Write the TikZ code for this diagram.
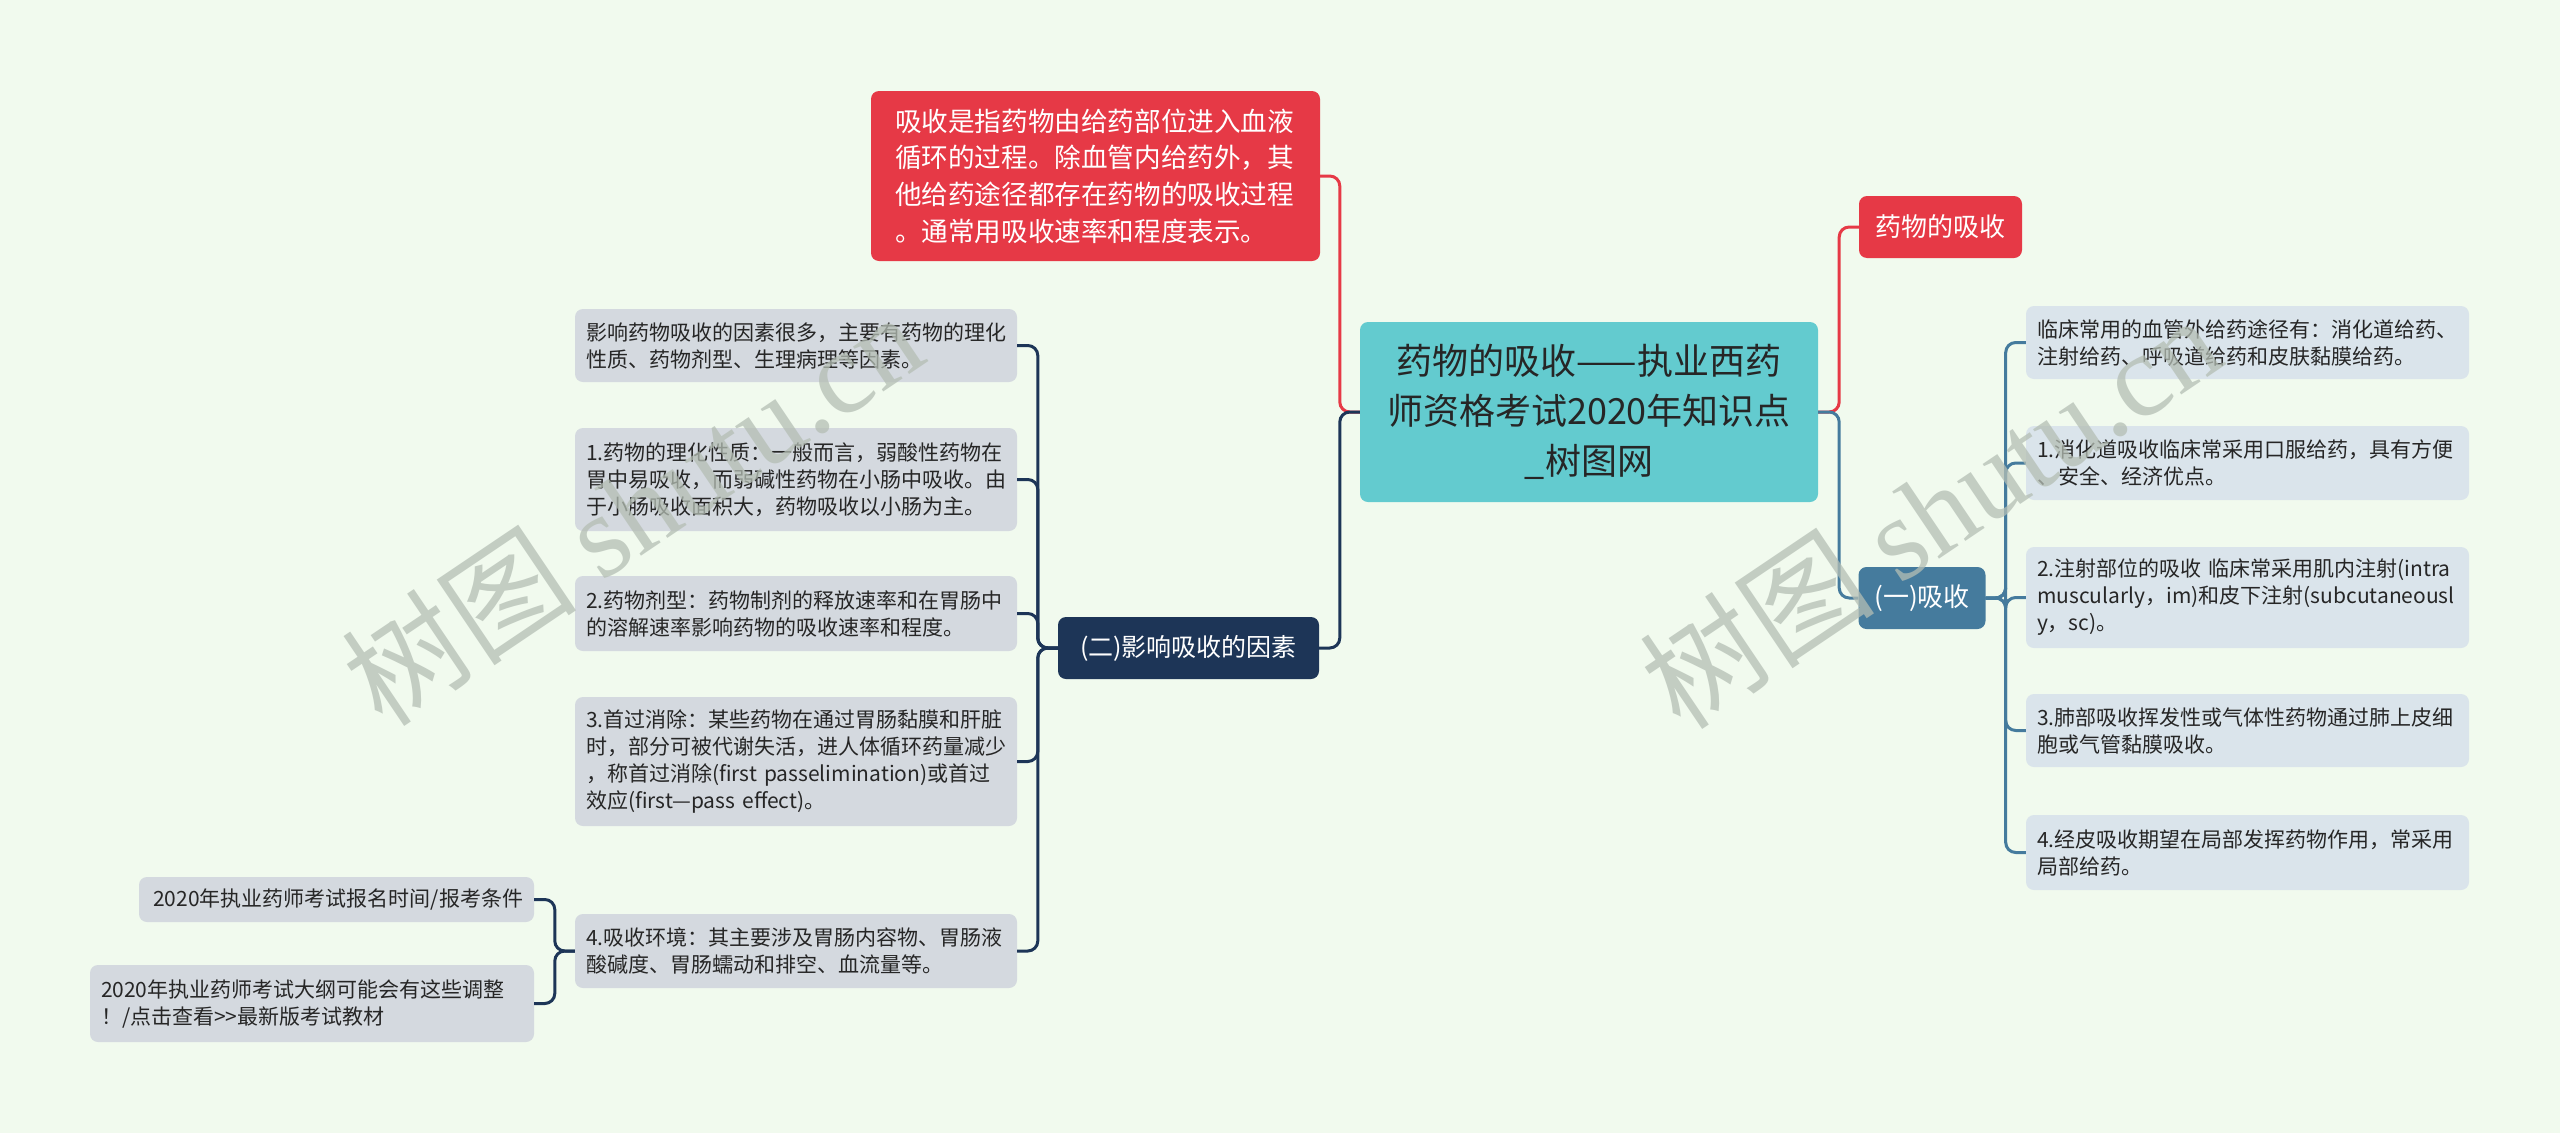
\documentclass[tikz,border=0pt]{standalone}
\usepackage{fontspec}
\setmainfont{Noto Sans CJK SC}
\newfontfamily\wmserif{Liberation Serif}
\newfontfamily\wmcjk{Noto Sans CJK SC}
\definecolor{bg}{HTML}{F1FAEE}
\definecolor{cred}{HTML}{E63946}
\definecolor{cteal}{HTML}{63CBCF}
\definecolor{cnavy}{HTML}{1D3557}
\definecolor{cblue}{HTML}{457B9D}
\definecolor{leafl}{HTML}{D4D9DF}
\definecolor{leafr}{HTML}{DAE4EB}
\definecolor{ink}{HTML}{262626}
\definecolor{wm}{HTML}{B4BEB4}
\tikzset{
  box/.style={rounded corners=8pt, inner xsep=11pt, inner ysep=0pt, anchor=center},
  leafL/.style={box, fill=leafl, text=ink, text width=420pt, align=left,
    minimum width=442pt, font=\fontsize{21pt}{27pt}\selectfont},
  leafR/.style={box, fill=leafr, text=ink, text width=421pt, align=left,
    minimum width=443pt, font=\fontsize{21pt}{27pt}\selectfont},
  mid/.style={box, text=white, minimum height=62pt, font=\fontsize{26pt}{32pt}\selectfont},
  conn/.style={line width=3pt, rounded corners=10pt},
  wmark/.style={rotate=34, text=wm, opacity=0.75, anchor=center}
}
\begin{document}
\begin{tikzpicture}[x=1pt,y=-1pt]
\useasboundingbox (0,0) rectangle (2560,1133);
\fill[bg] (0,0) rectangle (2560,1133);

% root
\node[box, fill=cteal, text=ink, minimum width=458pt, minimum height=180pt,
  text width=420pt, align=center, font=\fontsize{36pt}{50pt}\selectfont]
  (root) at (1589,412) {药物的吸收——执业西药\\师资格考试2020年知识点\\\_树图网};

% top red
\node[box, fill=cred, text=white, minimum width=449pt, minimum height=170pt,
  inner xsep=24pt, text width=401pt, align=left,
  font=\fontsize{26.6pt}{36.7pt}\selectfont]
  (rtop) at (1095.5,176) {吸收是指药物由给药部位进入血液\\循环的过程。除血管内给药外，其\\他给药途径都存在药物的吸收过程\\。通常用吸收速率和程度表示。};

% level-1 nodes
\node[mid, fill=cred, minimum width=163pt] (rred) at (1940.5,227) {药物的吸收};
\node[mid, fill=cblue, minimum width=127pt] (rblue) at (1922,598) {(一)吸收};
\node[mid, fill=cnavy, minimum width=261pt, font=\fontsize{25pt}{30pt}\selectfont] (lnavy) at (1188.5,648) {(二)影响吸收的因素};

% right leaves
\node[leafR, minimum height=73pt] (R1) at (2247.5,342.5) {临床常用的血管外给药途径有：消化道给药、\\注射给药、呼吸道给药和皮肤黏膜给药。};
\node[leafR, minimum height=74pt] (R2) at (2247.5,463) {1.消化道吸收临床常采用口服给药，具有方便\\、安全、经济优点。};
\node[leafR, minimum height=101pt] (R3) at (2247.5,597.5) {2.注射部位的吸收 临床常采用肌内注射(intra\\muscularly，im)和皮下注射(subcutaneousl\\y，sc)。};
\node[leafR, minimum height=73pt] (R4) at (2247.5,730.5) {3.肺部吸收挥发性或气体性药物通过肺上皮细\\胞或气管黏膜吸收。};
\node[leafR, minimum height=75pt] (R5) at (2247.5,852.5) {4.经皮吸收期望在局部发挥药物作用，常采用\\局部给药。};

% left leaves
\node[leafL, minimum height=73pt] (L1) at (796,345.5) {影响药物吸收的因素很多，主要有药物的理化\\性质、药物剂型、生理病理等因素。};
\node[leafL, minimum height=103pt] (L2) at (796,479.5) {1.药物的理化性质：一般而言，弱酸性药物在\\胃中易吸收，而弱碱性药物在小肠中吸收。由\\于小肠吸收面积大，药物吸收以小肠为主。};
\node[leafL, minimum height=75pt] (L3) at (796,613.5) {2.药物剂型：药物制剂的释放速率和在胃肠中\\的溶解速率影响药物的吸收速率和程度。};
\node[leafL, minimum height=129pt] (L4) at (796,761.5) {3.首过消除：某些药物在通过胃肠黏膜和肝脏\\时，部分可被代谢失活，进人体循环药量减少\\，称首过消除(first passelimination)或首过\\效应(first—pass effect)。};
\node[leafL, minimum height=74pt] (L5) at (796,951) {4.吸收环境：其主要涉及胃肠内容物、胃肠液\\酸碱度、胃肠蠕动和排空、血流量等。};

% sub leaves
\node[leafL, minimum height=45pt, minimum width=395pt, text width=373pt, align=right] (LL1) at (336.5,899.5) {2020年执业药师考试报名时间/报考条件};
\node[leafL, minimum height=77pt, minimum width=444pt, text width=422pt] (LL2) at (312,1003.5) {2020年执业药师考试大纲可能会有这些调整\\！/点击查看{>}\kern0pt{>}最新版考试教材};

% connectors root
\draw[conn, cred] (root.west) -- ++(-20,0) |- (rtop.east);
\draw[conn, cnavy] (root.west) -- ++(-20,0) |- (lnavy.east);
\draw[conn, cred] (root.east) -- ++(21,0) |- (rred.west);
\draw[conn, cblue] (root.east) -- ++(21,0) |- (rblue.west);

% right subtree
\foreach \n in {R1,R2,R3,R4,R5}
  \draw[conn, cblue] (rblue.east) -- ++(20,0) |- (\n.west);

% left subtree
\foreach \n in {L1,L2,L3,L4,L5}
  \draw[conn, cnavy] (lnavy.west) -- ++(-20,0) |- (\n.east);
\foreach \n in {LL1,LL2}
  \draw[conn, cnavy] (L5.west) -- ++(-20,0) |- (\n.east);

% watermarks
\node[wmark] (wm1) at (632,508) {\fontsize{118pt}{118pt}\selectfont\wmcjk 树图 \wmserif shutu.cn};
\node[wmark] (wm2) at (1930,511) {\fontsize{118pt}{118pt}\selectfont\wmcjk 树图 \wmserif shutu.cn};
\end{tikzpicture}
\end{document}
